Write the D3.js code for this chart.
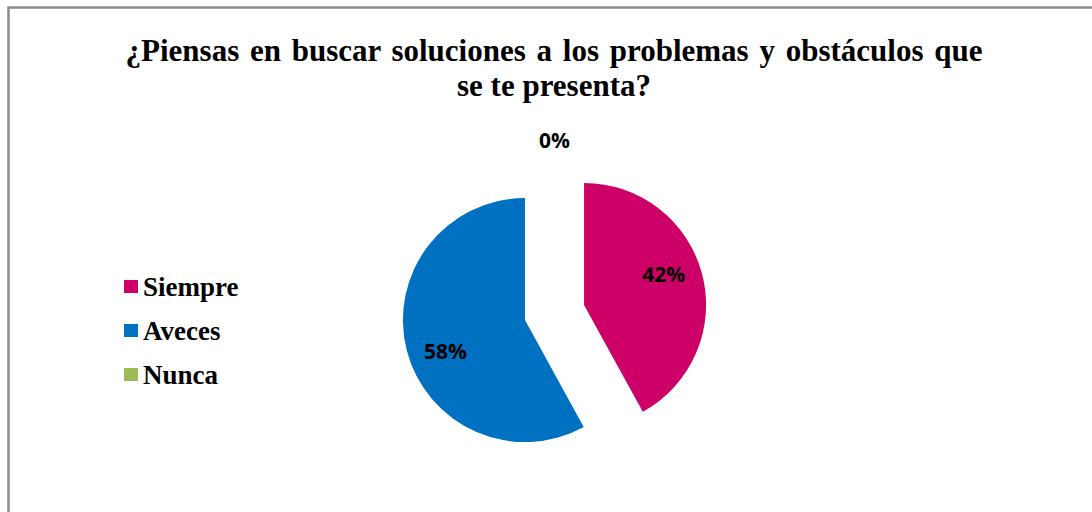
<!DOCTYPE html>
<html>
<head>
<meta charset="utf-8">
<script src="https://cdn.jsdelivr.net/npm/d3@7"></script>
<style>
  body { margin: 0; background: #fff; }
  svg { display: block; }
</style>
</head>
<body>
<div id="chart"></div>
<script>
// data
var categories = ["Siempre", "Aveces", "Nunca"];
var values = [42, 58, 0];
var labels = ["42%", "58%", "0%"];
var colors = ["#CC0066", "#0070C0", "#9BBB59"];
var titleLines = ["¿Piensas en buscar soluciones a los problemas y obstáculos que", "se te presenta?"];

var W = 1092, H = 512;

var svg = d3.select("#chart")
    .append("svg")
    .attr("width", W)
    .attr("height", H);

svg.append("rect").attr("width", W).attr("height", H).attr("fill", "#fff");

// chart frame: top and left edges show, right/bottom run off the page
svg.append("path")
    .attr("d", "M8.5," + (H + 5) + "V7.5H" + (W + 5))
    .attr("fill", "none")
    .attr("stroke", "#8c8c8c")
    .attr("stroke-width", 2.5);

// title
svg.append("text")
    .attr("x", 554)
    .attr("y", 61)
    .attr("text-anchor", "middle")
    .style("font-family", "'Liberation Serif', 'Times New Roman', serif")
    .style("font-weight", "bold")
    .style("font-size", "31px")
    .selectAll("tspan")
    .data(titleLines)
    .enter()
    .append("tspan")
    .attr("x", 554)
    .attr("dy", function(d, i) { return i ? 35 : 0; })
    .style("word-spacing", function(d, i) { return i ? "0px" : "3px"; })
    .text(function(d) { return d; });

// pie
var cx = 554.5, cy = 312.5, r = 122, explode = 30.5;

var pie = d3.pie().sort(null).value(function(d) { return d; });
var arcs = pie(values);
var arc = d3.arc().innerRadius(0).outerRadius(r);

var g = svg.append("g").attr("transform", "translate(" + cx + "," + cy + ")");

function mid(d) { return (d.startAngle + d.endAngle) / 2; }

g.selectAll("path.slice")
    .data(arcs)
    .enter()
    .append("path")
    .attr("class", "slice")
    .attr("d", arc)
    .attr("fill", function(d, i) { return colors[i]; })
    .attr("transform", function(d) {
        var a = mid(d);
        return "translate(" + (Math.sin(a) * explode) + "," + (-Math.cos(a) * explode) + ")";
    });

// data labels (best-fit placement, slightly rotated back from the mid angle)
function labelPos(d) {
    var a = mid(d);
    if (d.value === 0) return [Math.sin(a) * r * 1.41, -Math.cos(a) * r * 1.41];
    var b = a - 0.12, k = r * 0.7;
    return [Math.sin(a) * explode + Math.sin(b) * k, -Math.cos(a) * explode - Math.cos(b) * k];
}

g.selectAll("text.lbl")
    .data(arcs)
    .enter()
    .append("text")
    .attr("class", "lbl")
    .attr("text-anchor", "middle")
    .attr("dominant-baseline", "central")
    .style("font-family", "'Open Sans', 'Liberation Sans', sans-serif")
    .style("font-weight", "bold")
    .style("font-size", "21px")
    .attr("x", function(d) { return labelPos(d)[0]; })
    .attr("y", function(d) { return labelPos(d)[1]; })
    .text(function(d, i) { return labels[i]; });

// legend
var legend = svg.append("g").attr("transform", "translate(124,287)");
var item = legend.selectAll("g")
    .data(categories)
    .enter()
    .append("g")
    .attr("transform", function(d, i) { return "translate(0," + (i * 44) + ")"; });

item.append("rect")
    .attr("x", 0)
    .attr("y", -7)
    .attr("width", 14)
    .attr("height", 13)
    .attr("fill", function(d, i) { return colors[i]; });

item.append("text")
    .attr("x", 19)
    .attr("y", 9)
    .style("font-family", "'Liberation Serif', 'Times New Roman', serif")
    .style("font-weight", "bold")
    .style("font-size", "27px")
    .text(function(d) { return d; });
</script>
</body>
</html>
